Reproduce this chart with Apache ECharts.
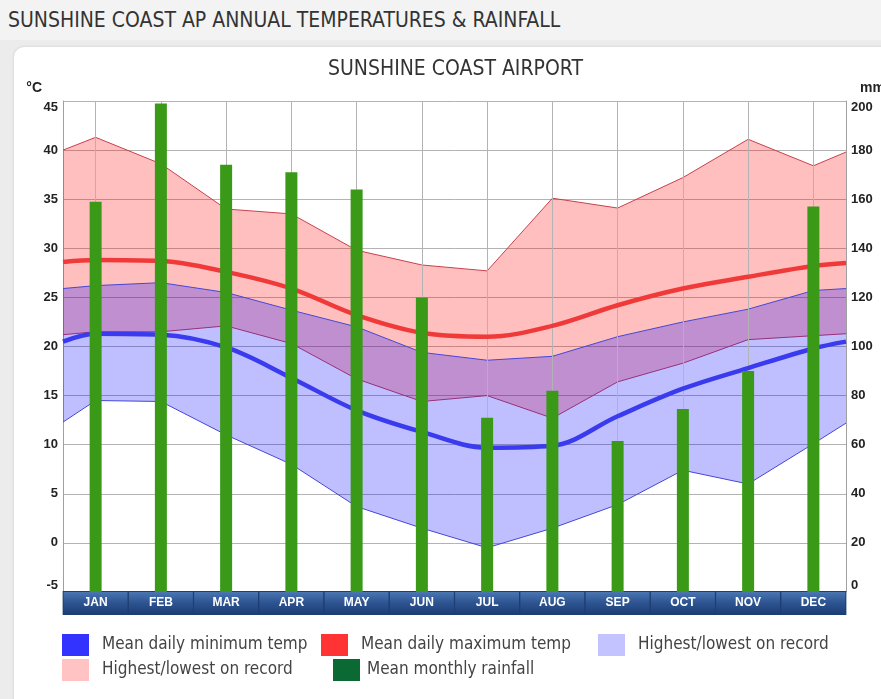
<!DOCTYPE html>
<html>
<head>
<meta charset="utf-8">
<script src="https://cdn.jsdelivr.net/npm/echarts@6/dist/echarts.min.js"></script>
<style>
  html, body { margin: 0; padding: 0; }
  body { width: 881px; height: 699px; background: #ececec; position: relative; overflow: hidden; }
  #hdr { position: absolute; left: 0; top: 0; width: 881px; height: 40px; background: #f3f3f3;
         font-family: "DejaVu Sans Condensed", sans-serif; font-size: 21px;
         color: #333; line-height: 40px; padding-left: 8px; box-sizing: border-box; }
  #card { position: absolute; left: 14px; top: 47px; width: 900px; height: 700px; background: #fff;
          border-radius: 10px; box-shadow: 0 0 3px rgba(0,0,0,0.15); }
  #main { position: absolute; left: 0; top: 0; width: 881px; height: 699px; }
</style>
</head>
<body>
<div id="hdr">SUNSHINE COAST AP ANNUAL TEMPERATURES &amp; RAINFALL</div>
<div id="card"></div>
<div id="main"></div>
<script>
const months = ["JAN", "FEB", "MAR", "APR", "MAY", "JUN", "JUL", "AUG", "SEP", "OCT", "NOV", "DEC"];

// temperature series: first and last value are the readings at the left/right plot edges,
// the 12 in between are Jan..Dec
const recMaxHigh = [40.0, 41.3, 38.6, 34.0, 33.5, 29.8, 28.3, 27.7, 35.1, 34.1, 37.2, 41.1, 38.4, 39.8];
const recMaxLow = [21.2, 21.5, 21.5, 22.1, 20.3, 16.7, 14.4, 15.0, 12.7, 16.4, 18.3, 20.7, 21.1, 21.3];
const meanMax = [28.6, 28.8, 28.7, 27.6, 25.9, 23.2, 21.4, 21.0, 22.1, 24.2, 25.9, 27.1, 28.2, 28.5];
const recMinHigh = [25.9, 26.2, 26.5, 25.5, 23.7, 22.0, 19.4, 18.6, 19.0, 21.0, 22.5, 23.8, 25.7, 25.9];
const meanMin = [20.5, 21.3, 21.2, 19.9, 16.8, 13.5, 11.3, 9.7, 9.9, 12.9, 15.7, 17.8, 19.8, 20.5];
const recMinLow = [12.3, 14.5, 14.4, 11.0, 8.0, 3.7, 1.5, -0.5, 1.5, 3.9, 7.4, 6.0, 10.1, 12.2];

// mean monthly rainfall, mm
const rainfall = [159, 199, 174, 171, 164, 120, 71, 82, 61.5, 74.5, 90, 157];

// position of each temperature reading on the hidden 0..12 month axis
const xs = [0, ...months.map((_, i) => i + 0.5), months.length];

const chart = echarts.init(document.getElementById("main"), null, { renderer: "canvas" });

const axisFont = "'Liberation Sans', Arial, sans-serif";
const textFont = "'DejaVu Sans Condensed', sans-serif";

function band(name, lows, highs, fill, edge, z) {
  return {
    type: "custom",
    name: name,
    xAxisIndex: 1,
    yAxisIndex: 0,
    z: z,
    silent: true,
    data: xs.map((x, i) => [x, lows[i], highs[i]]),
    renderItem: (params, api) => {
      if (params.dataIndex !== 0) return null;
      const top = highs.map((h, i) => api.coord([xs[i], h]));
      const bot = lows.map((l, i) => api.coord([xs[i], l]));
      return {
        type: "group",
        children: [
          { type: "polygon", shape: { points: top.concat(bot.slice().reverse()) }, style: { fill: fill } },
          { type: "polyline", shape: { points: top }, style: { stroke: edge, lineWidth: 1, fill: null } },
          { type: "polyline", shape: { points: bot }, style: { stroke: edge, lineWidth: 1, fill: null } },
        ],
      };
    },
  };
}

function meanLine(name, values, color) {
  return {
    type: "line",
    name: name,
    xAxisIndex: 1,
    yAxisIndex: 0,
    z: 5,
    data: xs.map((x, i) => [x, values[i]]),
    smooth: 0.35,
    showSymbol: false,
    symbol: "none",
    itemStyle: { color: color },
    lineStyle: { color: color, width: 4.5 },
  };
}

function legendItem(name, label, color, left, top, gap) {
  return {
    left: left,
    top: top,
    padding: 0,
    itemWidth: 27,
    itemHeight: 22,
    selectedMode: false,
    formatter: () => label,
    textStyle: { fontFamily: textFont, fontSize: 17, color: "#444", padding: [0, 0, 0, gap] },
    data: [{ name: name, icon: "rect", itemStyle: { color: color, borderWidth: 0 } }],
  };
}

const labelBg = {
  type: "linear", x: 0, y: 0, x2: 0, y2: 1,
  colorStops: [
    { offset: 0, color: "#4d79b5" },
    { offset: 0.45, color: "#2f5794" },
    { offset: 1, color: "#1b3b73" },
  ],
};

const option = {
  animation: false,
  backgroundColor: "transparent",
  title: {
    text: "SUNSHINE COAST AIRPORT",
    left: 328,
    top: 59,
    padding: 0,
    textStyle: { fontFamily: textFont, fontSize: 21, fontWeight: "normal", color: "#333" },
  },
  legend: [
    legendItem("meanMin", "Mean daily minimum temp", "#3333ff", 62, 634, 8),
    legendItem("meanMax", "Mean daily maximum temp", "#ff3333", 321, 634, 8),
    legendItem("recMin", "Highest/lowest on record", "#c3c3ff", 598, 634, 8),
    legendItem("recMax", "Highest/lowest on record", "#ffc3c3", 62, 659, 8),
    legendItem("rain", "Mean monthly rainfall", "#0b6a34", 333, 659, 2),
  ],
  grid: { left: 63, right: 35, top: 101, bottom: 107, outerBoundsMode: "none" },
  xAxis: [
    {
      type: "category",
      data: months,
      position: "bottom",
      axisLine: { show: false },
      axisTick: { show: false },
      splitLine: { show: false },
      axisLabel: {
        interval: 0,
        margin: 0,
        width: 64,
        height: 22,
        lineHeight: 22,
        align: "center",
        verticalAlign: "top",
        color: "#fff",
        fontFamily: axisFont,
        fontWeight: "bold",
        fontSize: 12,
        backgroundColor: labelBg,
        borderColor: "#1e3d70",
        borderWidth: 1,
      },
    },
    { type: "value", min: 0, max: months.length, show: false },
  ],
  yAxis: [
    {
      type: "value",
      min: -5,
      max: 45,
      interval: 5,
      name: "°C",
      nameLocation: "end",
      nameGap: 6,
      nameTextStyle: { fontFamily: axisFont, fontWeight: "bold", fontSize: 14, color: "#222", align: "right", padding: [0, 21, 0, 0] },
      axisLine: { show: true, lineStyle: { color: "#a0a0a0" } },
      axisTick: { show: false },
      splitLine: { show: true, lineStyle: { color: "#b3b3b3", width: 1 } },
      axisLabel: {
        margin: 5,
        color: "#222",
        fontFamily: axisFont,
        fontWeight: "bold",
        fontSize: 13,
        verticalAlignMaxLabel: "top",
        verticalAlignMinLabel: "bottom",
      },
    },
    {
      type: "value",
      min: 0,
      max: 200,
      interval: 20,
      position: "right",
      name: "mm",
      nameLocation: "end",
      nameGap: 6,
      nameTextStyle: { fontFamily: axisFont, fontWeight: "bold", fontSize: 14, color: "#222", align: "left", padding: [0, 0, 0, 14] },
      axisLine: { show: true, lineStyle: { color: "#a0a0a0" } },
      axisTick: { show: false },
      splitLine: { show: false },
      axisLabel: {
        margin: 5,
        color: "#222",
        fontFamily: axisFont,
        fontWeight: "bold",
        fontSize: 13,
        verticalAlignMaxLabel: "top",
        verticalAlignMinLabel: "bottom",
      },
    },
  ],
  series: [
    {
      // vertical grid lines through the month centres
      type: "line",
      name: "grid",
      xAxisIndex: 0,
      yAxisIndex: 0,
      z: 1,
      data: [],
      markLine: {
        silent: true,
        symbol: ["none", "none"],
        label: { show: false },
        lineStyle: { color: "#b3b3b3", width: 1, type: "solid" },
        data: months.map((m) => ({ xAxis: m })),
      },
    },
    band("recMax", recMaxLow, recMaxHigh, "rgba(255,0,0,0.25)", "#c8404c", 2),
    band("recMin", recMinLow, recMinHigh, "rgba(0,0,255,0.25)", "#4646d6", 3),
    meanLine("meanMax", meanMax, "#f03a3a"),
    meanLine("meanMin", meanMin, "#3a3aee"),
    {
      type: "bar",
      name: "rain",
      xAxisIndex: 0,
      yAxisIndex: 1,
      z: 8,
      barWidth: 12,
      data: rainfall,
      itemStyle: { color: "#3a9a18" },
    },
  ],
};

chart.setOption(option);
</script>
</body>
</html>
